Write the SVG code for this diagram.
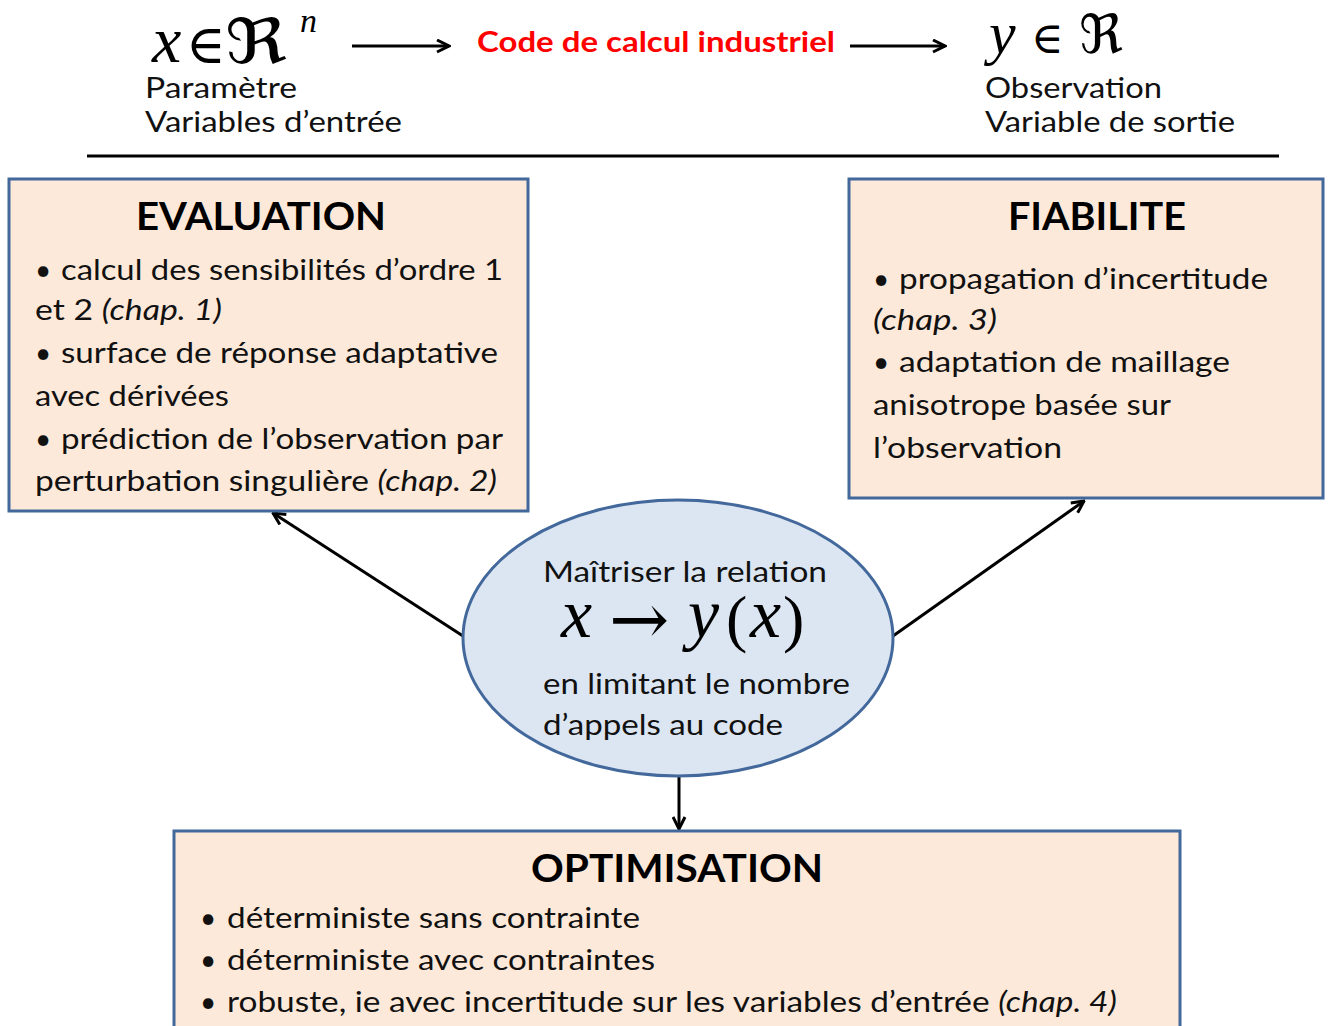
<svg xmlns="http://www.w3.org/2000/svg" width="1331" height="1026" viewBox="0 0 1331 1026">
<style>
.box{fill:#fde9d9;stroke:#43689b;stroke-width:3}
.ell{fill:#dce6f2;stroke:#43689b;stroke-width:3}
.t{font-family:Lato,"Open Sans","Liberation Sans",sans-serif;font-size:28px;fill:#111}
.h{font-family:Lato,"Open Sans","Liberation Sans",sans-serif;font-size:38px;font-weight:bold;fill:#000}
.m{font-family:"Liberation Serif","DejaVu Serif",serif;fill:#000}
.s{font-family:"DejaVu Serif","DejaVu Sans",serif}
.i{font-style:italic}
.red{font-family:Lato,"Open Sans","Liberation Sans",sans-serif;font-size:28px;font-weight:bold;fill:#ff0000}
.c{stroke:#000;stroke-width:3;fill:none}
</style>
<defs>
<marker id="ah" viewBox="0 0 10 10" refX="9" refY="5" markerWidth="5" markerHeight="5" orient="auto" markerUnits="strokeWidth">
<path d="M1,1 L9,5 L1,9" fill="none" stroke="#000" stroke-width="2"/>
</marker>
</defs>
<rect width="1331" height="1026" fill="#fff"/>

<g id="header">
<text class="m" y="62" font-size="66"><tspan class="i" x="152">x</tspan><tspan class="s" x="186" y="63" font-size="54">∈</tspan><tspan class="s" x="225" font-size="62" textLength="62" lengthAdjust="spacingAndGlyphs">ℜ</tspan><tspan class="i" x="300" y="32" font-size="34">n</tspan></text>
<text class="t" x="145" y="98" textLength="152" lengthAdjust="spacingAndGlyphs">Paramètre</text>
<text class="t" x="145" y="132" textLength="257" lengthAdjust="spacingAndGlyphs">Variables d’entrée</text>
<text class="red" x="477" y="52" textLength="358" lengthAdjust="spacingAndGlyphs">Code de calcul industriel</text>
<text class="m" y="53" font-size="60"><tspan class="i" x="989">y</tspan><tspan class="s" x="1031" font-size="44">∈</tspan><tspan class="s" x="1079" font-size="54">ℜ</tspan></text>
<text class="t" x="985" y="98" textLength="177" lengthAdjust="spacingAndGlyphs">Observation</text>
<text class="t" x="985" y="132" textLength="250" lengthAdjust="spacingAndGlyphs">Variable de sortie</text>
<line x1="87" y1="156" x2="1279" y2="156" stroke="#000" stroke-width="3"/>
</g>

<g id="connectors">
<line class="c" x1="352" y1="46" x2="449" y2="46" marker-end="url(#ah)"/>
<line class="c" x1="850" y1="46" x2="945" y2="46" marker-end="url(#ah)"/>
<line class="c" x1="463" y1="636" x2="273" y2="513" marker-end="url(#ah)"/>
<line class="c" x1="893" y1="636" x2="1084" y2="501" marker-end="url(#ah)"/>
<line class="c" x1="679" y1="777" x2="679" y2="829" marker-end="url(#ah)"/>
</g>

<g id="evaluation">
<rect class="box" x="9" y="179" width="519" height="332"/>
<text class="h" x="136" y="230" textLength="250" lengthAdjust="spacingAndGlyphs">EVALUATION</text>
<text class="t" x="35" y="280">•</text>
<text class="t" x="61" y="280" textLength="442" lengthAdjust="spacingAndGlyphs">calcul des sensibilités d’ordre 1</text>
<text class="t" x="35" y="320" textLength="187" lengthAdjust="spacingAndGlyphs">et 2 <tspan class="i">(chap. 1)</tspan></text>
<text class="t" x="35" y="363">•</text>
<text class="t" x="61" y="363" textLength="437" lengthAdjust="spacingAndGlyphs">surface de réponse adaptative</text>
<text class="t" x="35" y="406" textLength="194" lengthAdjust="spacingAndGlyphs">avec dérivées</text>
<text class="t" x="35" y="449">•</text>
<text class="t" x="61" y="449" textLength="442" lengthAdjust="spacingAndGlyphs">prédiction de l’observation par</text>
<text class="t" x="35" y="491" textLength="462" lengthAdjust="spacingAndGlyphs">perturbation singulière <tspan class="i">(chap. 2)</tspan></text>
</g>

<g id="fiabilite">
<rect class="box" x="849" y="179" width="474" height="319"/>
<text class="h" x="1008" y="230" textLength="178" lengthAdjust="spacingAndGlyphs">FIABILITE</text>
<text class="t" x="873" y="289">•</text>
<text class="t" x="899" y="289" textLength="369" lengthAdjust="spacingAndGlyphs">propagation d’incertitude</text>
<text class="t i" x="873" y="330" textLength="124" lengthAdjust="spacingAndGlyphs">(chap. 3)</text>
<text class="t" x="873" y="372">•</text>
<text class="t" x="899" y="372" textLength="331" lengthAdjust="spacingAndGlyphs">adaptation de maillage</text>
<text class="t" x="873" y="415" textLength="298" lengthAdjust="spacingAndGlyphs">anisotrope basée sur</text>
<text class="t" x="873" y="458" textLength="189" lengthAdjust="spacingAndGlyphs">l’observation</text>
</g>

<g id="center">
<ellipse class="ell" cx="678" cy="638" rx="215" ry="138"/>
<text class="t" x="543" y="582" textLength="284" lengthAdjust="spacingAndGlyphs">Maîtriser la relation</text>
<text class="m" y="637" font-size="70"><tspan class="i" x="561">x</tspan><tspan class="s" x="609" y="644" font-size="72">→</tspan><tspan class="i" x="688" y="637">y</tspan><tspan x="726" y="640" font-size="64">(</tspan><tspan class="i" x="750" y="637">x</tspan><tspan x="783" y="640" font-size="64">)</tspan></text>
<text class="t" x="543" y="694" textLength="307" lengthAdjust="spacingAndGlyphs">en limitant le nombre</text>
<text class="t" x="543" y="735" textLength="240" lengthAdjust="spacingAndGlyphs">d’appels au code</text>
</g>

<g id="optimisation">
<rect class="box" x="174" y="831" width="1006" height="220"/>
<text class="h" x="531" y="882" textLength="292" lengthAdjust="spacingAndGlyphs">OPTIMISATION</text>
<text class="t" x="200" y="928">•</text>
<text class="t" x="227" y="928" textLength="413" lengthAdjust="spacingAndGlyphs">déterministe sans contrainte</text>
<text class="t" x="200" y="970">•</text>
<text class="t" x="227" y="970" textLength="428" lengthAdjust="spacingAndGlyphs">déterministe avec contraintes</text>
<text class="t" x="200" y="1012">•</text>
<text class="t" x="227" y="1012" textLength="890" lengthAdjust="spacingAndGlyphs">robuste, ie avec incertitude sur les variables d’entrée <tspan class="i">(chap. 4)</tspan></text>
</g>
</svg>
